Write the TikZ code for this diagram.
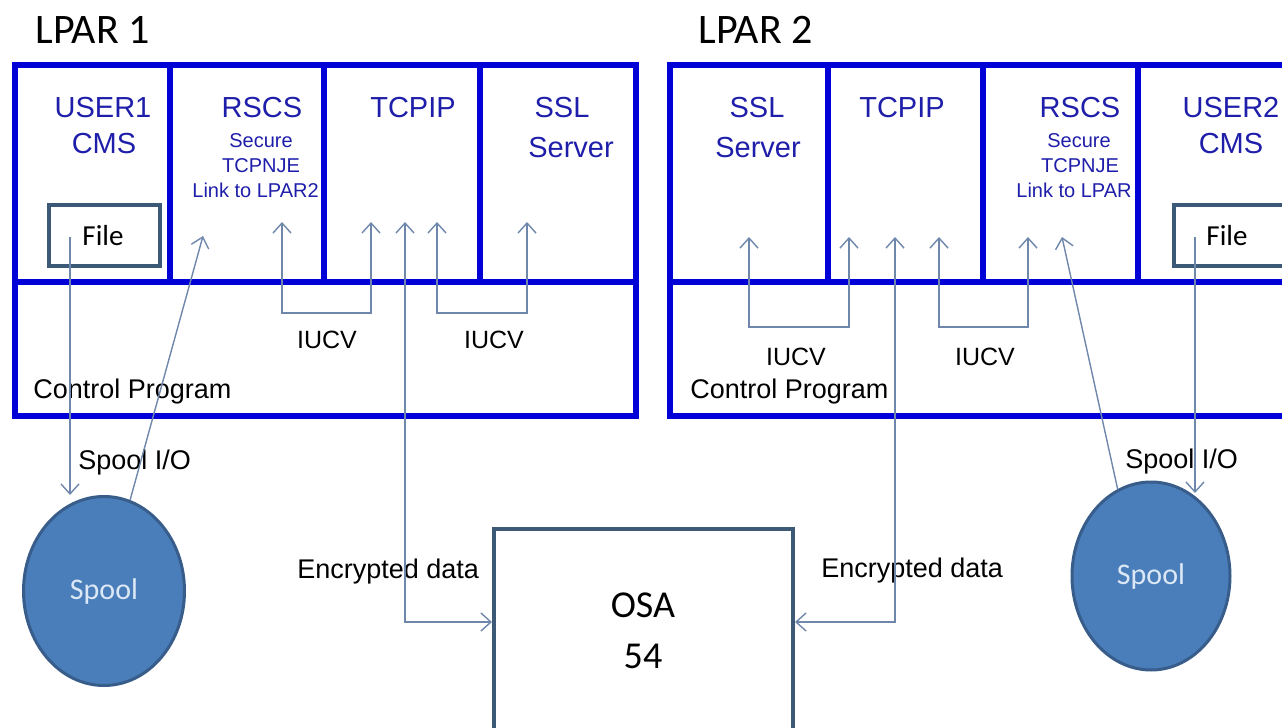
\documentclass[tikz,border=0pt]{standalone}
\usepackage{fontspec}
\setmainfont{Liberation Sans}
\newfontfamily\calib{Carlito}
\usetikzlibrary{arrows.meta,shapes.geometric}
\definecolor{frameblue}{RGB}{0,0,215}
\definecolor{textblue}{RGB}{30,30,170}
\definecolor{connc}{RGB}{110,135,170}
\definecolor{slate}{RGB}{60,90,120}
\definecolor{spoolfill}{RGB}{74,126,187}
\definecolor{spooledge}{RGB}{56,93,138}
\definecolor{spooltext}{RGB}{220,232,245}
\begin{document}
\begin{tikzpicture}[x=0.5pt,y=-0.5pt,
  >={Straight Barb[length=5pt,width=9pt]},
  lparframe/.style={draw=frameblue,line width=3pt},
  bluehead/.style={text=textblue,font=\fontsize{14.5}{16}\selectfont,inner sep=0pt,anchor=base},
  bluesmall/.style={text=textblue,font=\fontsize{10}{11}\selectfont,inner sep=0pt,anchor=base},
  blacklabel/.style={font=\fontsize{13.5}{15}\selectfont,inner sep=0pt,anchor=base west},
  iucvlabel/.style={font=\fontsize{12.5}{14}\selectfont,inner sep=0pt,anchor=base},
  titletext/.style={font=\calib\fontsize{21}{24}\selectfont,inner sep=0pt,anchor=base west},
  filetext/.style={font=\calib\fontsize{14.5}{16}\selectfont,inner sep=0pt,anchor=base},
  filebox/.style={draw=slate,line width=2pt,minimum width=55.5pt,minimum height=30.5pt,inner sep=0pt},
  spoolnode/.style={ellipse,draw=spooledge,line width=1.5pt,fill=spoolfill,text=spooltext,
     font=\calib\fontsize{15}{17}\selectfont,inner sep=0pt},
  osabox/.style={draw=slate,line width=2pt,minimum width=149.5pt,minimum height=111.5pt,inner sep=0pt},
  osatext/.style={font=\calib\fontsize{19}{21}\selectfont,inner sep=0pt,anchor=base},
  connector/.style={draw=connc,line width=0.7pt}
]
\useasboundingbox (0,0) rectangle (1282,728);
\clip (0,0) rectangle (1282,728);

% titles
\node[titletext] (t1) at (35,43) {LPAR 1};
\node[titletext] (t2) at (698,43) {LPAR 2};

% LPAR 1 texts
\node[bluehead] (u1a) at (103,118) {USER1};
\node[bluehead] (u1b) at (104,153) {CMS};
\node[bluehead] (r1a) at (262,118) {RSCS};
\node[bluesmall] (r1b) at (261,147) {Secure};
\node[bluesmall] (r1c) at (261,172) {TCPNJE};
\node[bluesmall,anchor=base west] (r1d) at (192,197) {Link to LPAR2};
\node[bluehead] (tc1) at (413,118) {TCPIP};
\node[bluehead] (s1a) at (562,118) {SSL};
\node[bluehead] (s1b) at (571,157) {Server};
\node[iucvlabel] (iu1a) at (327,348) {IUCV};
\node[iucvlabel] (iu1b) at (494,348) {IUCV};
\node[blacklabel] (cp1) at (33,398) {Control Program};

% LPAR 2 texts
\node[bluehead] (s2a) at (757,118) {SSL};
\node[bluehead] (s2b) at (758,157) {Server};
\node[bluehead] (tc2) at (902,118) {TCPIP};
\node[bluehead] (r2a) at (1080,118) {RSCS};
\node[bluesmall] (r2b) at (1079,147) {Secure};
\node[bluesmall] (r2c) at (1080,172) {TCPNJE};
\node[bluesmall] (r2d) at (1074,197) {Link to LPAR};
\node[bluehead] (u2a) at (1231,118) {USER2};
\node[bluehead] (u2b) at (1231,153) {CMS};
\node[iucvlabel] (iu2a) at (796,365) {IUCV};
\node[iucvlabel] (iu2b) at (985,365) {IUCV};
\node[blacklabel] (cp2) at (690,398) {Control Program};

% LPAR frames
\draw[lparframe] (15,65) rectangle (636,416);
\draw[lparframe] (15,282) -- (636,282);
\draw[lparframe] (170,65) -- (170,282);
\draw[lparframe] (324,65) -- (324,282);
\draw[lparframe] (480,65) -- (480,282);

\draw[lparframe] (670,65) rectangle (1291,416);
\draw[lparframe] (670,282) -- (1291,282);
\draw[lparframe] (828,65) -- (828,282);
\draw[lparframe] (983,65) -- (983,282);
\draw[lparframe] (1138,65) -- (1138,282);

% file boxes
\node[filebox] (file1) at (104.5,235.5) {};
\node[filetext] (f1t) at (103,245) {File};
\node[filebox] (file2) at (1229,235.5) {};
\node[filetext] (f2t) at (1227,245) {File};

% spools
\node[spoolnode,minimum width=80.5pt,minimum height=94.5pt] (spool1) at (104,591) {Spool};
\node[spoolnode,minimum width=79pt,minimum height=94pt] (spool2) at (1151,576) {Spool};

% OSA
\node[osabox] (osa) at (643.5,640.5) {};
\node[osatext] (osa1) at (643,617) {OSA};
\node[osatext] (osa2) at (643,668) {54};

% labels outside
\node[blacklabel] (sio1) at (78,469) {Spool I/O};
\node[blacklabel] (sio2) at (1125,468) {Spool I/O};
\node[blacklabel] (enc1) at (297,578) {Encrypted data};
\node[blacklabel] (enc2) at (821,577) {Encrypted data};

% connector end points
\coordinate (f1s) at (70,237);
\coordinate (f1e) at (70,495);
\coordinate (r1tip) at (203,236);
\coordinate (a1) at (282,222);
\coordinate (a2) at (371,222);
\coordinate (a3) at (437,222);
\coordinate (a4) at (527,222);
\coordinate (tcp1) at (405,222);
\coordinate (osaL) at (492,622);

\coordinate (b1) at (749,237);
\coordinate (b2) at (849,237);
\coordinate (b3) at (939,237);
\coordinate (b4) at (1028,237);
\coordinate (tcp2) at (895,237);
\coordinate (osaR) at (795,622);
\coordinate (r2tip) at (1062,237);
\coordinate (f2s) at (1195,237);
\coordinate (f2e) at (1195,493);

% LPAR 1 connectors
\draw[connector,->] (f1s) -- (f1e);
\draw[connector,->] (spool1.74) -- (r1tip);
\draw[connector,<->] (a1) -- (282,313) -- (371,313) -- (a2);
\draw[connector,<->] (a3) -- (437,313) -- (527,313) -- (a4);
\draw[connector,<->] (tcp1) |- (osaL);

% LPAR 2 connectors
\draw[connector,<->] (b1) -- (749,327) -- (849,327) -- (b2);
\draw[connector,<->] (b3) -- (939,327) -- (1028,327) -- (b4);
\draw[connector,<->] (tcp2) |- (osaR);
\draw[connector,->] (spool2.111) -- (r2tip);
\draw[connector,->] (f2s) -- (f2e);
\end{tikzpicture}
\end{document}
